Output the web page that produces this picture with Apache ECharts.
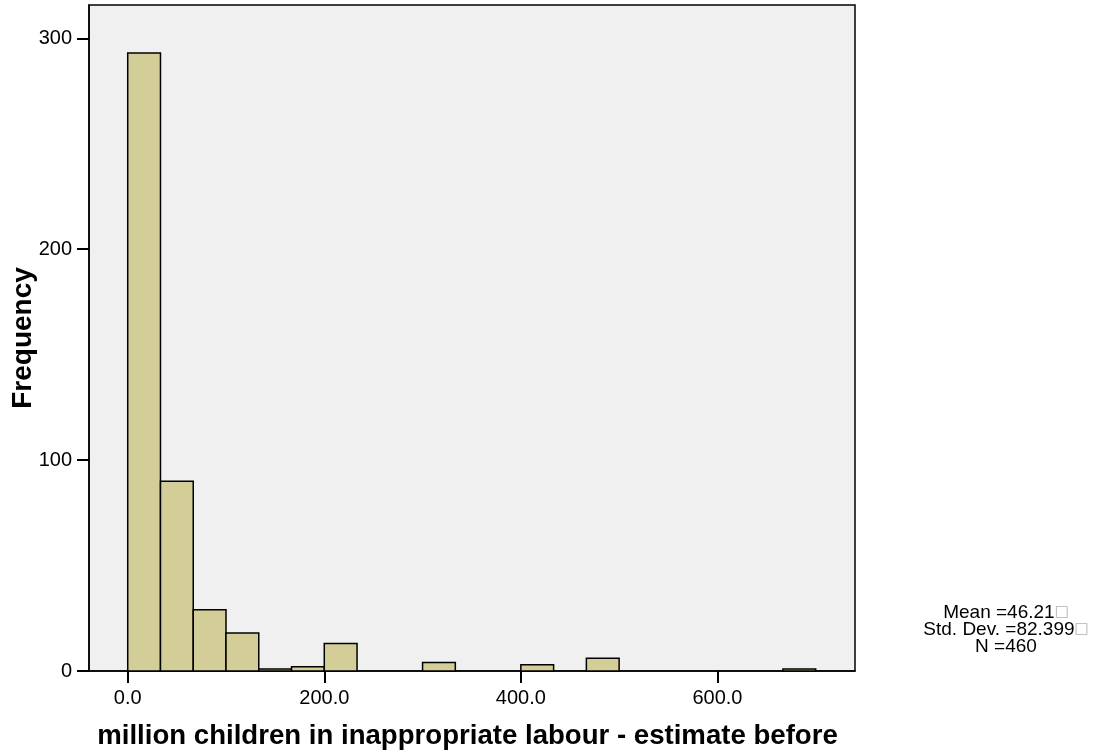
<!DOCTYPE html>
<html>
<head>
<meta charset="utf-8">
<script src="https://cdn.jsdelivr.net/npm/echarts@6/dist/echarts.min.js"></script>
<style>
  html, body { margin: 0; padding: 0; background: #fff; }
  #chart { width: 1102px; height: 755px; }
</style>
</head>
<body>
<div id="chart"></div>
<script>
// Histogram bins: 21 equal bins of width 200/6 starting at 0
const binWidth = 200 / 6;
const binCounts = [293, 90, 29, 18, 1, 2, 13, 0, 0, 4, 0, 0, 3, 0, 6, 0, 0, 0, 0, 0, 1];
const xTicks = [0, 200, 400, 600];
const yTicks = [0, 100, 200, 300];
const statLines = ['Mean =46.21', 'Std. Dev. =82.399', 'N =460'];

const FONT = '"Liberation Sans", Arial, Helvetica, sans-serif';

// [start, end, count] for each non-empty bin
const bins = [];
binCounts.forEach((c, i) => {
  if (c > 0) bins.push([i * binWidth, (i + 1) * binWidth, c]);
});

const chart = echarts.init(document.getElementById('chart'), null, { renderer: 'canvas' });

chart.setOption({
  animation: false,
  backgroundColor: '#ffffff',
  grid: {
    left: 89, right: 247, top: 5, bottom: 84,
    containLabel: false,
    outerBoundsMode: 'none',
    show: true,
    backgroundColor: '#f0f0f0',
    borderColor: '#000000',
    borderWidth: 1.5
  },
  xAxis: {
    type: 'value',
    min: -39.4,
    max: 740,
    name: 'million children in inappropriate labour - estimate before',
    nameLocation: 'middle',
    nameGap: 51,
    nameMoveOverlap: false,
    nameTextStyle: { fontFamily: FONT, fontSize: 27.6, fontWeight: 'bold', color: '#000', padding: [0, 9, 0, 0] },
    axisLine: { show: true, onZero: false, lineStyle: { color: '#000', width: 1.5 } },
    axisTick: { show: true, inside: false, length: 12, customValues: xTicks, lineStyle: { color: '#000', width: 2 } },
    axisLabel: {
      customValues: xTicks,
      margin: 17,
      fontFamily: FONT, fontSize: 20, color: '#000',
      formatter: v => v.toFixed(1)
    },
    splitLine: { show: false }
  },
  yAxis: {
    type: 'value',
    min: 0,
    max: 315.8,
    interval: 100,
    name: 'Frequency',
    nameLocation: 'middle',
    nameGap: 52,
    nameMoveOverlap: false,
    nameTextStyle: { fontFamily: FONT, fontSize: 28, fontWeight: 'bold', color: '#000' },
    axisLine: { show: true, onZero: false, lineStyle: { color: '#000', width: 1.5 } },
    axisTick: { show: true, inside: false, length: 12, customValues: yTicks, lineStyle: { color: '#000', width: 2 } },
    axisLabel: {
      customValues: yTicks,
      margin: 17,
      fontFamily: FONT, fontSize: 20, color: '#000'
    },
    splitLine: { show: false }
  },
  series: [{
    type: 'custom',
    data: bins,
    encode: { x: [0, 1], y: 2 },
    renderItem: function (params, api) {
      const p0 = api.coord([api.value(0), 0]);
      const p1 = api.coord([api.value(1), api.value(2)]);
      return {
        type: 'rect',
        shape: { x: p0[0], y: p1[1], width: p1[0] - p0[0], height: p0[1] - p1[1] },
        style: { fill: '#d3ce97', stroke: '#000000', lineWidth: 1.5 }
      };
    }
  }],
  graphic: [{
    type: 'text',
    x: 1006,
    y: 604,
    style: {
      text: statLines.map((s, i) => i < 2 ? s + '{box|\u25A1}' : s).join('\n'),
      align: 'center',
      verticalAlign: 'top',
      fontFamily: FONT,
      fontSize: 19,
      lineHeight: 17,
      fill: '#000',
      rich: {
        box: { fontFamily: '"DejaVu Sans", sans-serif', fontSize: 15, fill: '#b0b0b0', lineHeight: 17 }
      }
    }
  }]
});
</script>
</body>
</html>
